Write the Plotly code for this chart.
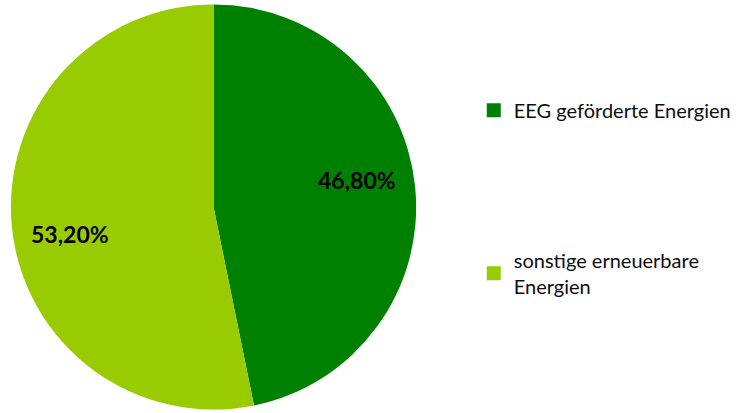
import math
import plotly.graph_objects as go

categories = ["EEG geförderte Energien", "sonstige erneuerbare<br>Energien"]
values = [46.8, 53.2]
colors = ["#008000", "#99CC00"]

W, H = 736, 413
cx, cy, r = 215, 207, 204  # pie centre / radius in pixels

fig = go.Figure()
fig.add_trace(go.Pie(
    labels=categories, values=values,
    marker=dict(colors=colors, line=dict(width=0)),
    sort=False, direction="clockwise", rotation=0,
    textinfo="none",
    showlegend=False, hoverinfo="label+percent",
    domain=dict(x=[(cx - r) / W, (cx + r) / W], y=[(H - cy - r) / H, (H - cy + r) / H]),
))
for i, (lab, col) in enumerate(zip(categories, colors)):
    fig.add_trace(go.Scatter(
        x=[None], y=[None], mode="markers", name=lab, legendgroup=f"g{i}",
        marker=dict(symbol="square", size=14, color=col),
    ))

# data labels placed along each slice's bisector (computed from the values)
total = sum(values)
cum = 0.0
for v in values:
    mid = (cum + v / 2) / total * 360 - 5
    cum += v
    th = math.radians(mid)
    px = cx + 0.72 * r * math.sin(th)
    py = cy - 0.72 * r * math.cos(th)
    fig.add_annotation(
        x=px / W, y=(H - py) / H, xref="paper", yref="paper",
        xanchor="center", yanchor="middle",
        text=f"{v:.2f}%".replace(".", ","), showarrow=False,
        font=dict(family="Lato", size=23, color="black", weight="bold"),
    )

fig.update_layout(
    width=W, height=H, margin=dict(l=0, r=0, t=0, b=0),
    paper_bgcolor="white", plot_bgcolor="white",
    separators=",.",
    xaxis=dict(visible=False), yaxis=dict(visible=False),
    legend=dict(x=477 / W, y=0.78, xanchor="left", yanchor="top",
                font=dict(family="Lato", size=20, color="#0d0d0d"),
                tracegroupgap=121, itemsizing="trace",
                bgcolor="rgba(0,0,0,0)"),
)
fig.write_html("out.html", config={"displayModeBar": False},
               post_script="document.body.style.margin='0';")
